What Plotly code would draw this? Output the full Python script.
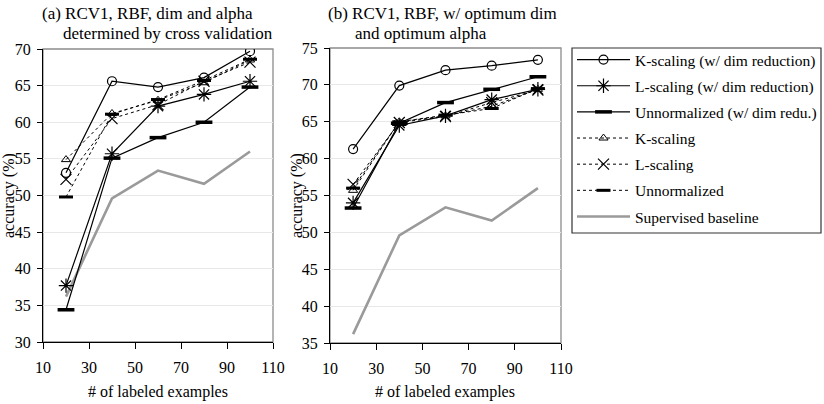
import plotly.graph_objects as go

x_vals = [20, 40, 60, 80, 100]

series_names = [
    "K-scaling (w/ dim reduction)",
    "L-scaling (w/ dim reduction)",
    "Unnormalized (w/ dim redu.)",
    "K-scaling",
    "L-scaling",
    "Unnormalized",
    "Supervised baseline",
]

# Panel (a): dim and alpha determined by cross validation
a_k_dim = [53.1, 65.6, 64.8, 66.1, 69.7]
a_l_dim = [37.7, 55.7, 62.2, 63.8, 65.6]
a_u_dim = [34.4, 55.1, 57.9, 60.0, 64.8]
a_k = [54.9, 61.2, 63.0, 65.4, 68.5]
a_l = [52.2, 60.5, 62.4, 65.6, 68.2]
a_u = [49.8, 61.1, 63.1, 65.7, 68.6]
a_base = [36.2, 49.6, 53.4, 51.6, 56.0]

# Panel (b): optimum dim and optimum alpha
b_k_dim = [61.3, 69.9, 72.0, 72.6, 73.4]
b_l_dim = [54.0, 64.5, 65.8, 68.0, 69.4]
b_u_dim = [53.3, 64.8, 67.6, 69.4, 71.1]
b_k = [55.7, 65.0, 65.8, 67.1, 69.4]
b_l = [56.5, 64.9, 65.7, 67.6, 69.3]
b_u = [56.0, 65.0, 65.9, 66.8, 69.5]
b_base = [36.2, 49.6, 53.4, 51.6, 56.0]

styles = [
    dict(line=dict(color="black", width=1.2), marker=dict(symbol="circle-open", size=9, color="black", line=dict(width=1.2, color="black"))),
    dict(line=dict(color="black", width=1.2), marker=dict(symbol="asterisk-open", size=12, color="black", line=dict(width=1.2, color="black"))),
    dict(line=dict(color="black", width=1.2), marker=dict(symbol="line-ew-open", size=12, color="black", line=dict(width=3.5, color="black"))),
    dict(line=dict(color="black", width=1, dash="3px,3px"), marker=dict(symbol="triangle-up-open", size=8, color="black", line=dict(width=1, color="black"))),
    dict(line=dict(color="black", width=1, dash="3px,3px"), marker=dict(symbol="x-thin-open", size=11, color="black", line=dict(width=1.2, color="black"))),
    dict(line=dict(color="black", width=1, dash="3px,3px"), marker=dict(symbol="line-ew-open", size=10, color="black", line=dict(width=3, color="black"))),
    dict(line=dict(color="#9a9a9a", width=2.6), marker=None),
]

fig = go.Figure()

panels = [
    ([a_k_dim, a_l_dim, a_u_dim, a_k, a_l, a_u, a_base], "x", "y", True),
    ([b_k_dim, b_l_dim, b_u_dim, b_k, b_l, b_u, b_base], "x2", "y2", False),
]

order = [6, 3, 4, 5, 2, 1, 0]  # draw baseline first, solid on top
for data, xa, ya, show in panels:
    for i in order:
        st = styles[i]
        kw = dict(line=st["line"])
        if st["marker"] is not None:
            kw["marker"] = st["marker"]
            mode = "lines+markers"
        else:
            mode = "lines"
        fig.add_trace(go.Scatter(
            x=x_vals, y=data[i], name=series_names[i], mode=mode,
            xaxis=xa, yaxis=ya, showlegend=show, legendrank=i + 1,
            legendgroup=f"g{i}", **kw))

serif = "Liberation Serif, Times New Roman, serif"
axis_common = dict(
    range=[10, 110], tick0=10, dtick=20, showgrid=False, zeroline=False,
    showline=True, linecolor="black", linewidth=1.3, ticks="outside",
    ticklen=6, tickcolor="black", tickwidth=1.3, automargin=False,
    ticklabelstandoff=5,
    tickfont=dict(family=serif, size=16, color="black"),
)
yaxis_common = dict(
    dtick=5, showgrid=True, gridcolor="#e8e8e8", gridwidth=1, zeroline=False,
    showline=True, linecolor="black", linewidth=1.3, ticks="outside",
    ticklen=5, tickcolor="black", tickwidth=1.3, automargin=False,
    ticklabelstandoff=3,
    tickfont=dict(family=serif, size=16, color="black"),
)

W, H = 824, 404
fig.update_layout(
    width=W, height=H,
    margin=dict(l=0, r=0, t=0, b=0, pad=0),
    paper_bgcolor="white", plot_bgcolor="white",
    font=dict(family=serif, size=15, color="black"),
    xaxis=dict(domain=[43 / W, 273 / W], anchor="y", **axis_common),
    yaxis=dict(domain=[1 - 342 / H, 1 - 49 / H], anchor="x", range=[30, 70], **yaxis_common),
    xaxis2=dict(domain=[330 / W, 561 / W], anchor="y2", **axis_common),
    yaxis2=dict(domain=[1 - 343 / H, 1 - 48 / H], anchor="x2", range=[35, 75], **yaxis_common),
    legend=dict(
        x=572 / W, y=1 - 43 / H, xanchor="left", yanchor="top",
        borderwidth=0, bgcolor="rgba(0,0,0,0)",
        font=dict(family=serif, size=15.5, color="black"),
        tracegroupgap=3, itemwidth=53,
    ),
    showlegend=True,
)

# Plot-area frames (gray top/right border)
for xr, yr in [("x domain", "y domain"), ("x2 domain", "y2 domain")]:
    fig.add_shape(type="rect", xref=xr, yref=yr, x0=0, x1=1, y0=0, y1=1,
                  line=dict(color="#8c8c8c", width=1.3), layer="below")

# Legend frame
fig.add_shape(type="rect", xref="paper", yref="paper",
              x0=572 / W, x1=821 / W, y0=1 - 233 / H, y1=1 - 48 / H,
              line=dict(color="#333333", width=1.2), fillcolor="white", layer="below")

ann = [
    dict(text="(a) RCV1, RBF, dim and alpha", x=40 / W, y=1 - 13 / H),
    dict(text="determined by cross validation", x=61 / W, y=1 - 34 / H),
    dict(text="(b) RCV1, RBF, w/ optimum dim", x=326 / W, y=1 - 13 / H),
    dict(text="and optimum alpha", x=353 / W, y=1 - 34 / H),
]
for a in ann:
    fig.add_annotation(xref="paper", yref="paper", xanchor="left", yanchor="middle",
                       showarrow=False, font=dict(family=serif, size=17, color="black"), **a)

for xc in [158, 445]:
    fig.add_annotation(text="# of labeled examples", xref="paper", yref="paper",
                       x=xc / W, y=1 - 392 / H, xanchor="center", yanchor="middle",
                       showarrow=False, font=dict(family=serif, size=16, color="black"))
for xc in [9, 297]:
    fig.add_annotation(text="accuracy (%)", xref="paper", yref="paper", textangle=-90,
                       x=xc / W, y=1 - 196 / H, xanchor="center", yanchor="middle",
                       showarrow=False, font=dict(family=serif, size=16, color="black"))

fig.write_html("out.html")
